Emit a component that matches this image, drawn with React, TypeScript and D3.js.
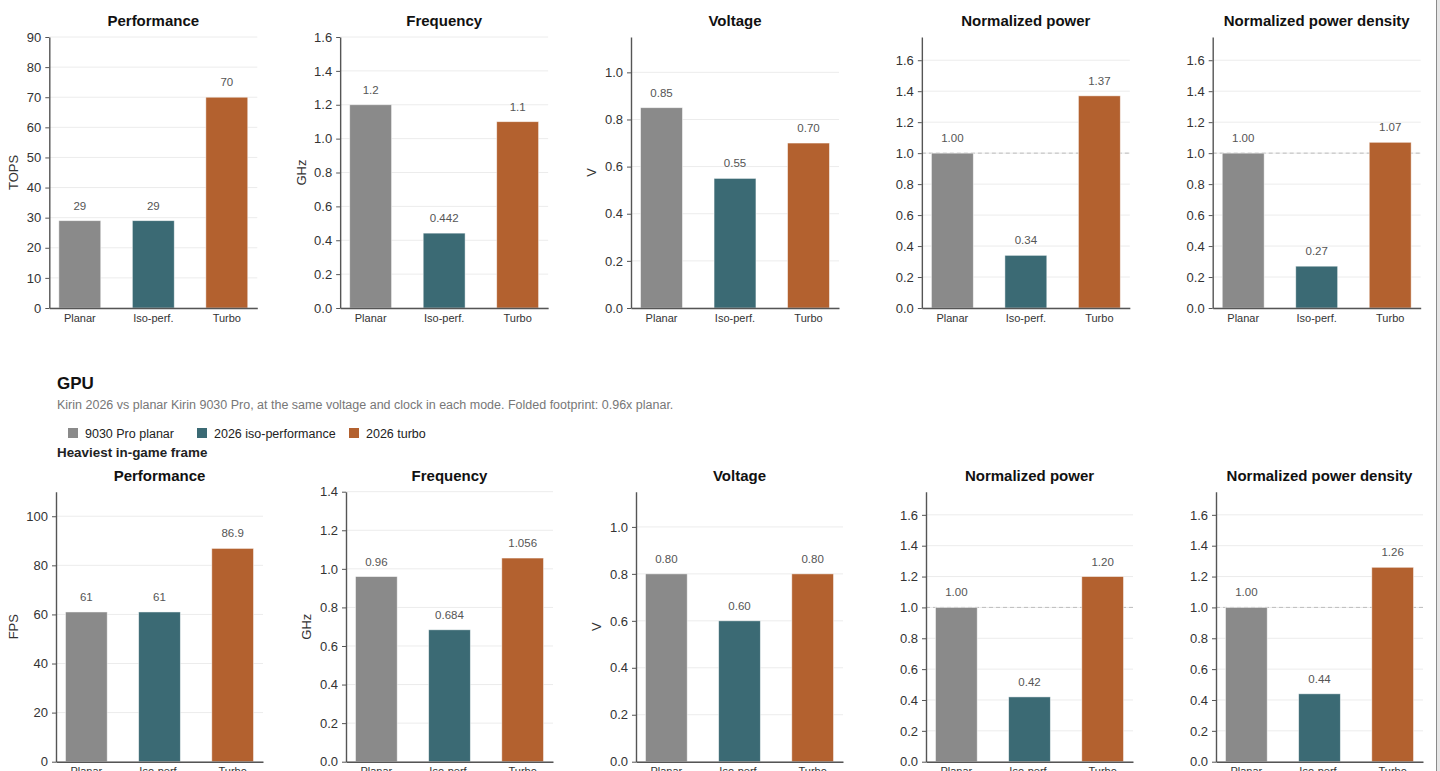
import { useEffect, useRef } from "react"
import * as d3 from "d3"

// categories + series colours
const categories = ["Planar", "Iso-perf.", "Turbo"]
const seriesColors = ["#8a8a8a", "#3b6a74", "#b3612f"]
const legendLabels = ["9030 Pro planar", "2026 iso-performance", "2026 turbo"]

// panel titles / units
const panelTitles = ["Performance", "Frequency", "Voltage", "Normalized power", "Normalized power density"]
const npuUnits = ["TOPS", "GHz", "V", "", ""]
const gpuUnits = ["FPS", "GHz", "V", "", ""]

// NPU row (top)
const npuPerformance = [29, 29, 70]
const npuFrequency = [1.2, 0.442, 1.1]
const npuVoltage = [0.85, 0.55, 0.7]
const npuPower = [1.0, 0.34, 1.37]
const npuPowerDensity = [1.0, 0.27, 1.07]

// GPU row (bottom)
const gpuPerformance = [61, 61, 86.9]
const gpuFrequency = [0.96, 0.684, 1.056]
const gpuVoltage = [0.8, 0.6, 0.8]
const gpuPower = [1.0, 0.42, 1.2]
const gpuPowerDensity = [1.0, 0.44, 1.26]

// y domain tops and tick values
const npuDomainMax = [90, 1.6, 1.15, 1.75, 1.75]
const gpuDomainMax = [110, 1.4, 1.15, 1.75, 1.75]
const npuTicks = [d3.range(0, 91, 10), d3.range(0, 1.61, 0.2), d3.range(0, 1.01, 0.2), d3.range(0, 1.61, 0.2), d3.range(0, 1.61, 0.2)]
const gpuTicks = [d3.range(0, 101, 20), d3.range(0, 1.41, 0.2), d3.range(0, 1.01, 0.2), d3.range(0, 1.61, 0.2), d3.range(0, 1.61, 0.2)]
const labelFormats = ["raw", "raw", ".2f", ".2f", ".2f"]

const gpuTitle = "GPU"
const gpuSubtitle = "Kirin 2026 vs planar Kirin 9030 Pro, at the same voltage and clock in each mode. Folded footprint: 0.96x planar."
const gpuSection = "Heaviest in-game frame"

const FONT = "'Liberation Sans', Arial, Helvetica, sans-serif"

interface RowLayout {
    x0: number
    stepX: number
    width: number
    top: number
    bottom: number
}

function drawPanel(
    svg: d3.Selection<SVGSVGElement, unknown, null, undefined>,
    left: number,
    layout: RowLayout,
    title: string,
    unit: string,
    values: number[],
    domainMax: number,
    ticks: number[],
    fmt: string,
    refLine: boolean
) {
    const g = svg.append("g").attr("transform", `translate(${left},0)`)

    const x = d3.scaleBand<string>()
        .domain(categories)
        .range([0, layout.width])
        .paddingInner(0.43)
        .paddingOuter(0.13)

    const y = d3.scaleLinear()
        .domain([0, domainMax])
        .range([layout.bottom, layout.top])

    const tickFmt = domainMax > 10 ? d3.format("d") : d3.format(".1f")

    // grid
    g.append("g")
        .selectAll("line")
        .data(ticks)
        .enter()
        .append("line")
        .attr("x1", 0)
        .attr("x2", layout.width)
        .attr("y1", (d) => y(d))
        .attr("y2", (d) => y(d))
        .attr("stroke", "#ececec")
        .attr("stroke-width", 1)

    if (refLine) {
        g.append("line")
            .attr("x1", 0)
            .attr("x2", layout.width)
            .attr("y1", y(1))
            .attr("y2", y(1))
            .attr("stroke", "#bdbdbd")
            .attr("stroke-width", 1)
            .attr("stroke-dasharray", "4 3")
    }

    // bars
    g.selectAll("rect.bar")
        .data(values)
        .enter()
        .append("rect")
        .attr("class", "bar")
        .attr("x", (_, i) => x(categories[i])!)
        .attr("y", (d) => y(d))
        .attr("width", x.bandwidth())
        .attr("height", (d) => layout.bottom - y(d))
        .attr("fill", (_, i) => seriesColors[i])
        .attr("stroke", "#ffffff")
        .attr("stroke-opacity", 0.6)
        .attr("stroke-width", 0.8)

    // value labels
    const valFmt = fmt === "raw" ? (d: number) => String(d) : d3.format(fmt)
    g.selectAll("text.val")
        .data(values)
        .enter()
        .append("text")
        .attr("class", "val")
        .attr("x", (_, i) => x(categories[i])! + x.bandwidth() / 2)
        .attr("y", (d) => y(d) - 11)
        .attr("text-anchor", "middle")
        .attr("font-family", FONT)
        .attr("font-size", 11.5)
        .attr("fill", "#555")
        .text((d) => valFmt(d))

    // y axis
    const yAxis = g.append("g")
        .call(
            d3.axisLeft(y)
                .tickValues(ticks)
                .tickFormat((d) => tickFmt(d as number))
                .tickSize(4)
                .tickPadding(4)
                .tickSizeOuter(0)
        )
    yAxis.select(".domain").attr("stroke", "#555").attr("stroke-width", 1.4)
    yAxis.selectAll(".tick line").attr("stroke", "#555")
    yAxis.selectAll(".tick text")
        .attr("font-family", FONT)
        .attr("font-size", 13)
        .attr("fill", "#333")

    // x axis
    const xAxis = g.append("g")
        .attr("transform", `translate(0,${layout.bottom})`)
        .call(d3.axisBottom(x).tickSize(0).tickPadding(6))
    xAxis.select(".domain").attr("stroke", "#555").attr("stroke-width", 1.4)
    xAxis.selectAll(".tick text")
        .attr("font-family", FONT)
        .attr("font-size", 11)
        .attr("fill", "#333")

    // title
    g.append("text")
        .attr("x", layout.width / 2)
        .attr("y", layout.top - 11)
        .attr("text-anchor", "middle")
        .attr("font-family", FONT)
        .attr("font-size", 15)
        .attr("font-weight", "bold")
        .attr("fill", "#111")
        .text(title)

    // unit label
    if (unit) {
        const widest = d3.max(ticks, (t) => tickFmt(t).length)!
        const offset = 20 + widest * 7.2 - (tickFmt(ticks[1]).includes(".") ? 3.6 : 0)
        g.append("text")
            .attr("transform", `rotate(-90)`)
            .attr("x", -(layout.top + layout.bottom) / 2)
            .attr("y", -offset)
            .attr("text-anchor", "middle")
            .attr("dominant-baseline", "middle")
            .attr("font-family", FONT)
            .attr("font-size", 13)
            .attr("fill", "#333")
            .text(unit)
    }
}

export default function App() {
    const svgRef = useRef<SVGSVGElement | null>(null)

    useEffect(() => {
        if (!svgRef.current) return
        const svg = d3.select(svgRef.current)
        svg.selectAll("*").remove()

        svg.append("rect").attr("width", 1440).attr("height", 771).attr("fill", "#ffffff")

        const npuRow: RowLayout = { x0: 49.3, stepX: 290.85, width: 208, top: 37, bottom: 308 }
        const gpuRow: RowLayout = { x0: 56, stepX: 290, width: 207, top: 491.7, bottom: 761.7 }

        const npuValues = [npuPerformance, npuFrequency, npuVoltage, npuPower, npuPowerDensity]
        const gpuValues = [gpuPerformance, gpuFrequency, gpuVoltage, gpuPower, gpuPowerDensity]

        npuValues.forEach((vals, i) => {
            drawPanel(svg, npuRow.x0 + i * npuRow.stepX, npuRow, panelTitles[i], npuUnits[i], vals, npuDomainMax[i], npuTicks[i], labelFormats[i], i >= 3)
        })
        gpuValues.forEach((vals, i) => {
            drawPanel(svg, gpuRow.x0 + i * gpuRow.stepX, gpuRow, panelTitles[i], gpuUnits[i], vals, gpuDomainMax[i], gpuTicks[i], labelFormats[i], i >= 3)
        })

        // GPU section header
        svg.append("text")
            .attr("x", 57)
            .attr("y", 389)
            .attr("font-family", FONT)
            .attr("font-size", 17)
            .attr("font-weight", "bold")
            .attr("fill", "#111")
            .text(gpuTitle)

        svg.append("text")
            .attr("x", 57)
            .attr("y", 409)
            .attr("font-family", FONT)
            .attr("font-size", 12.5)
            .attr("fill", "#777")
            .text(gpuSubtitle)

        // legend
        const legendX = [68, 197, 349]
        const legend = svg.append("g")
        legendLabels.forEach((label, i) => {
            legend.append("rect")
                .attr("x", legendX[i])
                .attr("y", 428)
                .attr("width", 10)
                .attr("height", 10)
                .attr("fill", seriesColors[i])
            legend.append("text")
                .attr("x", legendX[i] + 17)
                .attr("y", 437.5)
                .attr("font-family", FONT)
                .attr("font-size", 12.5)
                .attr("fill", "#222")
                .text(label)
        })

        svg.append("text")
            .attr("x", 57)
            .attr("y", 457)
            .attr("font-family", FONT)
            .attr("font-size", 13.4)
            .attr("font-weight", "bold")
            .attr("fill", "#222")
            .text(gpuSection)

        // right page edge
        svg.append("rect").attr("x", 1436).attr("y", 0).attr("width", 4).attr("height", 771).attr("fill", "#e6e6e6")
        svg.append("line")
            .attr("x1", 1436.5)
            .attr("x2", 1436.5)
            .attr("y1", 0)
            .attr("y2", 771)
            .attr("stroke", "#8a8a8a")
            .attr("stroke-width", 1)
    }, [])

    return (
        <svg
            ref={svgRef}
            width={1440}
            height={771}
            style={{ position: "absolute", left: 0, top: 0, display: "block" }}
        />
    )
}
